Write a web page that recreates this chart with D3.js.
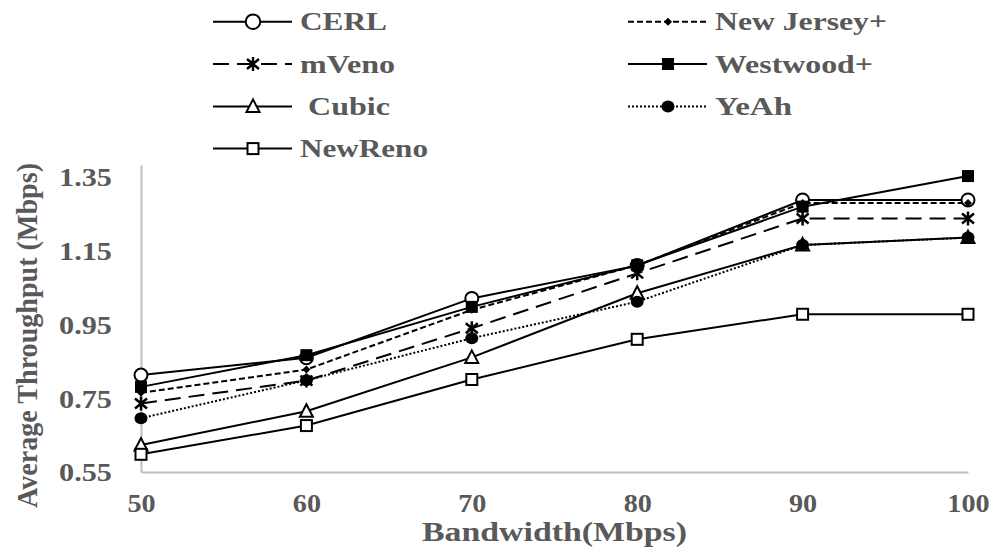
<!DOCTYPE html>
<html>
<head>
<meta charset="utf-8">
<script src="https://cdn.jsdelivr.net/npm/d3@7"></script>
<style>
  html, body { margin: 0; padding: 0; background: #fff; }
  svg { display: block; }
  text { font-family: "Liberation Serif", "Times New Roman", serif; font-weight: bold; fill: #595959; }
</style>
</head>
<body>
<svg id="chart" width="998" height="560"></svg>
<script>
// ---------- data ----------
const bandwidth = [50, 60, 70, 80, 90, 100];
const cerl      = [0.813, 0.860, 1.021, 1.110, 1.288, 1.288];
const mveno     = [0.736, 0.798, 0.940, 1.089, 1.238, 1.238];
const cubic     = [0.623, 0.715, 0.861, 1.035, 1.166, 1.186];
const newreno   = [0.598, 0.676, 0.801, 0.910, 0.978, 0.978];
const newjersey = [0.765, 0.828, 0.990, 1.111, 1.280, 1.280];
const westwood  = [0.781, 0.867, 0.998, 1.111, 1.270, 1.353];
const yeah      = [0.696, 0.799, 0.913, 1.012, 1.166, 1.186];
const yTicks    = [0.55, 0.75, 0.95, 1.15, 1.35];
const xTitle = "Bandwidth(Mbps)";
const yTitle = "Average Throughput (Mbps)";

const series = [
  { name: "CERL",        values: cerl,      dash: null,   marker: "circle",  col: 0, row: 0, tw: 87 },
  { name: "mVeno",       values: mveno,     dash: "16,8", marker: "star",    col: 0, row: 1, tw: 95 },
  { name: "Cubic",       values: cubic,     dash: null,   marker: "triangle",col: 0, row: 2, tw: 82, dx: 8 },
  { name: "NewReno",     values: newreno,   dash: null,   marker: "square",  col: 0, row: 3, tw: 128 },
  { name: "New Jersey+", values: newjersey, dash: "6,3",  marker: "diamond", col: 1, row: 0, tw: 172 },
  { name: "Westwood+",   values: westwood,  dash: null,   marker: "fsquare", col: 1, row: 1, tw: 158 },
  { name: "YeAh",        values: yeah,      dash: "2,2",  marker: "dot",     col: 1, row: 2, tw: 77 }
];

// ---------- layout ----------
const svg = d3.select("#chart");
const x = d3.scaleLinear().domain([50, 100]).range([141, 968]);
const y = d3.scaleLinear().domain([0.55, 1.383]).range([472, 165]);

// axes
const gx = svg.append("g").attr("transform", `translate(0,${y(0.55)})`)
  .call(d3.axisBottom(x).tickValues(bandwidth).tickSize(0).tickFormat(d3.format("d")));
gx.select(".domain").attr("stroke", "#bfbfbf").attr("stroke-width", 2);
gx.selectAll(".tick text")
  .attr("font-size", 24.5).attr("y", 0).attr("dy", 0)
  .attr("transform", "translate(0,40) scale(1.15,1)")
  .attr("text-anchor", "middle");

const gy = svg.append("g").attr("transform", `translate(${x(50)},0)`)
  .call(d3.axisLeft(y).tickValues(yTicks).tickSize(0).tickFormat(d3.format(".2f")));
gy.select(".domain").attr("stroke", "#bfbfbf").attr("stroke-width", 2);
gy.selectAll(".tick text")
  .attr("font-size", 25).attr("x", 0).attr("dy", "0.35em")
  .attr("transform", "translate(-29,0) scale(1.21,1)")
  .attr("text-anchor", "end");
svg.selectAll(".tick line").remove();

// axis titles
svg.append("text").text(xTitle)
  .attr("x", (x(50) + x(100)) / 2 - 132.5).attr("y", 541)
  .attr("font-size", 27).attr("textLength", 265).attr("lengthAdjust", "spacingAndGlyphs");

svg.append("text").text(yTitle)
  .attr("transform", "translate(37,508) rotate(-90)")
  .attr("x", 0).attr("y", 0)
  .attr("font-size", 30).attr("textLength", 345).attr("lengthAdjust", "spacingAndGlyphs");

// marker drawing
function drawMarker(g, type, big) {
  const sw = 2;
  const k = big ? 1.12 : 1;
  if (type === "circle") g.append("circle").attr("r", 6.5 * k).attr("fill", "#fff").attr("stroke", "#000").attr("stroke-width", sw);
  else if (type === "dot") g.append("ellipse").attr("rx", 6.5).attr("ry", 6).attr("fill", "#000");
  else if (type === "square") g.append("rect").attr("x", -5.5).attr("y", -5.5).attr("width", 11).attr("height", 11).attr("fill", "#fff").attr("stroke", "#000").attr("stroke-width", sw);
  else if (type === "fsquare") g.append("rect").attr("x", -6).attr("y", -6).attr("width", 12).attr("height", 12).attr("fill", "#000");
  else if (type === "triangle") g.append("path").attr("d", "M0,-7 L6.5,5.5 L-6.5,5.5 Z").attr("fill", "#fff").attr("stroke", "#000").attr("stroke-width", sw);
  else if (type === "diamond") g.append("path").attr("d", "M0,-4 L4,0 L0,4 L-4,0 Z").attr("fill", "#000");
  else if (type === "star") g.append("path").attr("d", "M0,-7 L0,7 M-6,-5 L6,5 M-6,5 L6,-5").attr("stroke", "#000").attr("stroke-width", 2.5).attr("fill", "none");
}

// series lines
const line = d3.line().x((d, i) => x(bandwidth[i])).y(d => y(d));
const plot = svg.append("g");
series.forEach(s => {
  plot.append("path").datum(s.values)
    .attr("d", line).attr("fill", "none").attr("stroke", "#000")
    .attr("stroke-width", 2).attr("stroke-dasharray", s.dash);
});
series.forEach(s => {
  s.values.forEach((v, i) => {
    const g = plot.append("g").attr("transform", `translate(${x(bandwidth[i])},${y(v)})`);
    drawMarker(g, s.marker, false);
  });
});

// legend
const legX = [213, 628];
const legRowY = [21.7, 64, 106.4, 148.6];
const legend = svg.append("g");
series.forEach(s => {
  const lx = legX[s.col], ly = legRowY[s.row];
  const g = legend.append("g").attr("transform", `translate(${lx},${ly})`);
  g.append("line").attr("x1", 0).attr("x2", 79).attr("y1", 0).attr("y2", 0)
    .attr("stroke", "#000").attr("stroke-width", 2).attr("stroke-dasharray", s.dash);
  const m = g.append("g").attr("transform", "translate(40,0)");
  drawMarker(m, s.marker, true);
  g.append("text").text(s.name)
    .attr("x", 87 + (s.dx || 0)).attr("y", 8.5)
    .attr("font-size", 25)
    .attr("textLength", s.tw).attr("lengthAdjust", "spacingAndGlyphs");
});
</script>
</body>
</html>
